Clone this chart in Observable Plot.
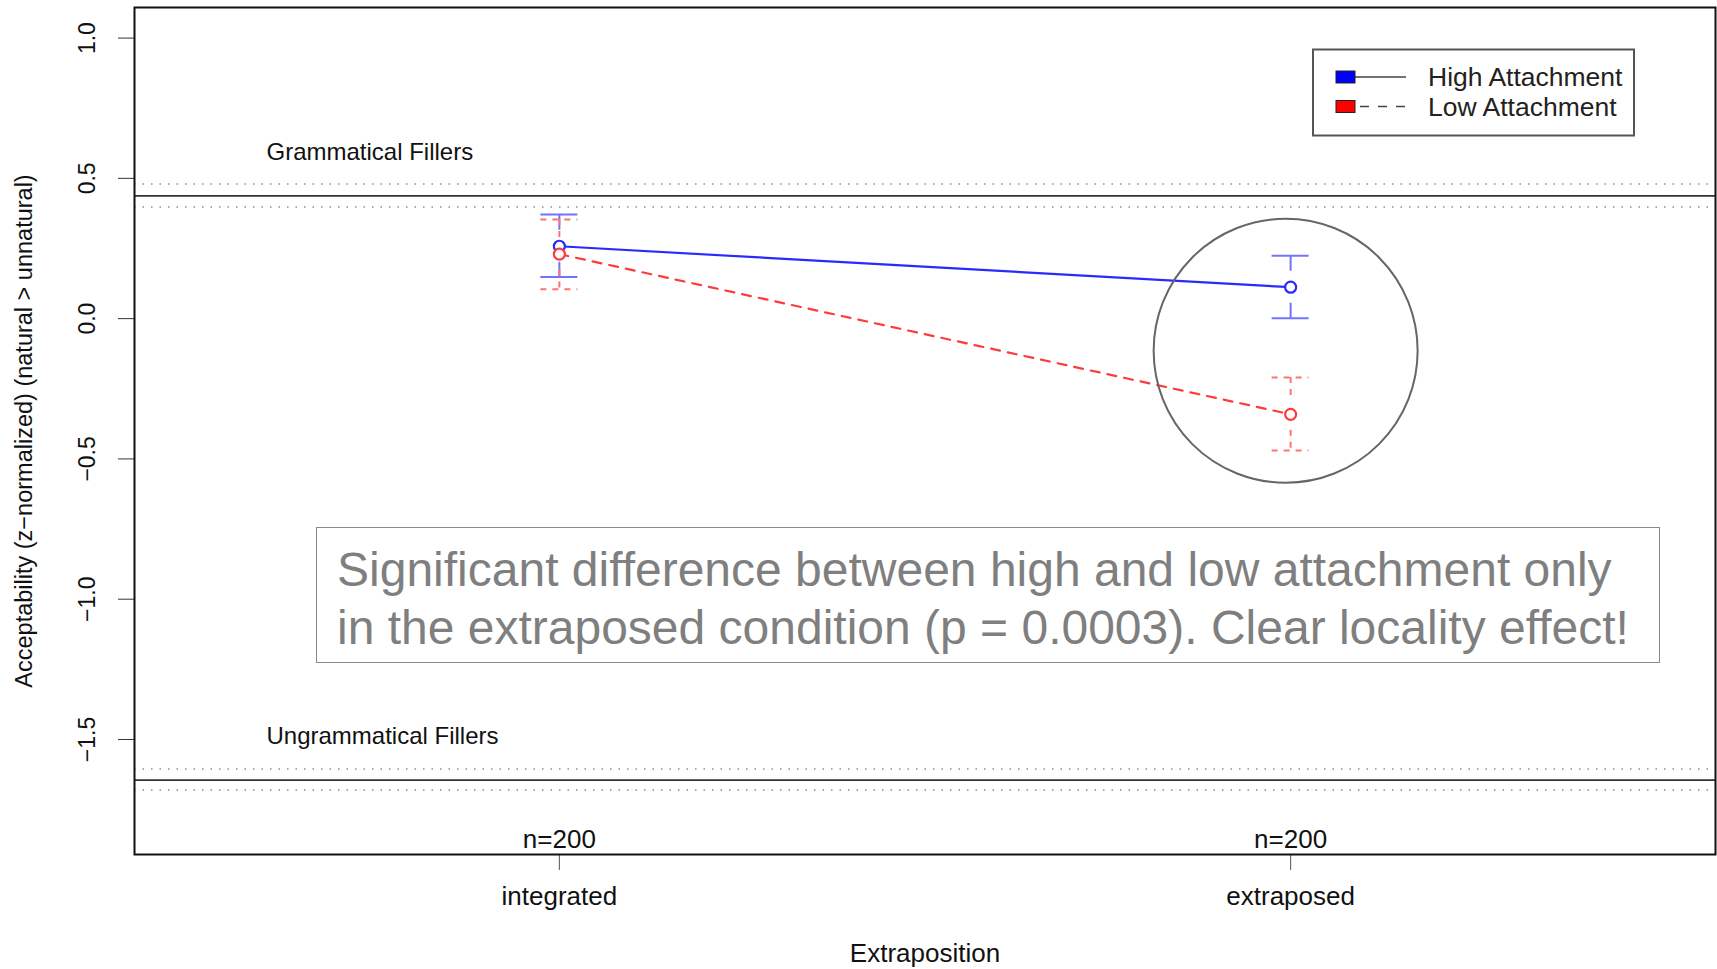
<!DOCTYPE html>
<html>
<head>
<meta charset="utf-8">
<script src="https://cdn.jsdelivr.net/npm/d3@7"></script>
<script src="https://cdn.jsdelivr.net/npm/@observablehq/plot@0.6"></script>
<style>
  html, body { margin: 0; padding: 0; background: #fff; }
  #wrap { position: relative; width: 1717px; height: 969px; overflow: hidden; font-family: "Liberation Sans", Arial, sans-serif; }
  #note {
    position: absolute; left: 316px; top: 527px; width: 1344px; height: 136px;
    box-sizing: border-box; border: 1.5px solid #8a8a8a; background: #fff;
    color: #7f7f7f; font-size: 48px; line-height: 58px; padding: 13px 0 0 20px;
    white-space: nowrap;
  }
  #legend { position: absolute; left: 0; top: 0; }
</style>
</head>
<body>
<div id="wrap"></div>
<script>
// ---- data ----
const categories = ["integrated", "extraposed"];
const nLabels = ["n=200", "n=200"];
const seriesNames = ["High Attachment", "Low Attachment"];
const highMean  = [0.258, 0.112];
const highLower = [0.148, 0.001];
const highUpper = [0.371, 0.224];
const lowMean   = [0.230, -0.341];
const lowLower  = [0.105, -0.470];
const lowUpper  = [0.353, -0.210];
const yTicks = [-1.5, -1.0, -0.5, 0.0, 0.5, 1.0];
const fillerLabels = ["Grammatical Fillers", "Ungrammatical Fillers"];
const fillerMean  = [0.4375, -1.645];
const fillerLower = [0.398, -1.680];
const fillerUpper = [0.480, -1.605];
const noteLines = [
  "Significant difference between high and low attachment only",
  "in the extraposed condition (p = 0.0003). Clear locality effect!"
];

// ---- derived tables ----
const high = categories.map((c, i) => ({x: i + 1, mean: highMean[i], lo: highLower[i], hi: highUpper[i]}));
const low  = categories.map((c, i) => ({x: i + 1, mean: lowMean[i],  lo: lowLower[i],  hi: lowUpper[i]}));
const fillers = fillerLabels.map((l, i) => ({label: l, mean: fillerMean[i], lo: fillerLower[i], hi: fillerUpper[i]}));
const fillerBands = fillers.flatMap(f => [f.lo, f.hi]);
const circleRow = [{x: 2, y: (highMean[1] + lowMean[1]) / 2}];
const fmt = d3.format(".1f");

const blue = "#2a2aff", blueBar = "#7272ff";
const red = "#ff3a3a", redBar = "#ff7272";
const GAP = 16, CAP = 18.5;

function errorMarks(rows, color, dash) {
  const base = {stroke: color, strokeWidth: 2, strokeDasharray: dash};
  return [
    Plot.ruleX(rows, {x: "x", y1: "hi", y2: "mean", insetBottom: GAP, ...base}),
    Plot.ruleX(rows, {x: "x", y1: "mean", y2: "lo", insetTop: GAP, ...base}),
    Plot.ruleY(rows, {y: "hi", x1: "x", x2: "x", insetLeft: -CAP, insetRight: -CAP, ...base}),
    Plot.ruleY(rows, {y: "lo", x1: "x", x2: "x", insetLeft: -CAP, insetRight: -CAP, ...base})
  ];
}

const chart = Plot.plot({
  width: 1717,
  height: 969,
  marginLeft: 134,
  marginRight: 2,
  marginTop: 7,
  marginBottom: 115,
  style: {fontFamily: "'Liberation Sans', Arial, sans-serif", background: "transparent", color: "#111"},
  x: {type: "linear", domain: [0.419, 2.581], axis: null},
  y: {domain: [-1.91, 1.109], axis: null},
  marks: [
    // filler reference lines
    Plot.ruleY(fillerBands, {stroke: "#8c8c8c", strokeWidth: 1.6, strokeDasharray: "1.5,7"}),
    Plot.ruleY(fillers, {y: "mean", stroke: "#333", strokeWidth: 1.6}),
    Plot.text(fillers, {y: "mean", text: "label", frameAnchor: "left", dx: 132, dy: -44, textAnchor: "start", fontSize: 24, fill: "#111"}),
    // error bars
    ...errorMarks(high, blueBar, null),
    ...errorMarks(low, redBar, "6,6"),
    // connecting lines
    Plot.line(high, {x: "x", y: "mean", stroke: blue, strokeWidth: 2.2}),
    Plot.line(low, {x: "x", y: "mean", stroke: red, strokeWidth: 2.2, strokeDasharray: "9,8"}),
    // means
    Plot.dot(high, {x: "x", y: "mean", r: 5.5, stroke: blue, strokeWidth: 2.2, fill: "white"}),
    Plot.dot(low, {x: "x", y: "mean", r: 5.5, stroke: red, strokeWidth: 2.2, fill: "white"}),
    // highlight circle
    Plot.dot(circleRow, {x: "x", y: "y", r: 132, dx: -5, stroke: "#666", strokeWidth: 2, fill: "none"}),
    // n labels
    Plot.text(categories, {x: (d, i) => i + 1, text: (d, i) => nLabels[i], frameAnchor: "bottom", dy: -15, lineAnchor: "middle", fontSize: 26, fill: "#111"}),
    // axes
    Plot.axisX([1, 2], {tickSize: 16, tickPadding: 16, tickFormat: d => categories[d - 1], fontSize: 26, label: null, stroke: "#555"}),
    Plot.axisY(yTicks, {tickSize: 16, tickFormat: () => "", label: null, stroke: "#333"}),
    Plot.text(yTicks, {y: d => d, text: d => fmt(d), frameAnchor: "left", textAnchor: "middle", dx: -47, rotate: -90, fontSize: 23, lineAnchor: "middle", fill: "#111"}),
    Plot.text(["Acceptability (z\u2212normalized) (natural > unnatural)"], {frameAnchor: "left", textAnchor: "middle", dx: -110, rotate: -90, fontSize: 23.5, lineAnchor: "middle", fill: "#111"}),
    Plot.text(["Extraposition"], {frameAnchor: "bottom", dy: 99, lineAnchor: "middle", fontSize: 26, fill: "#111"}),
    Plot.frame({stroke: "#111", strokeWidth: 2})
  ]
});

const wrap = document.getElementById("wrap");
wrap.appendChild(chart);

// annotation box
const note = document.createElement("div");
note.id = "note";
note.innerHTML = noteLines.join("<br>");
wrap.appendChild(note);

// legend
const ns = "http://www.w3.org/2000/svg";
const leg = document.createElementNS(ns, "svg");
leg.setAttribute("id", "legend");
leg.setAttribute("width", 1717);
leg.setAttribute("height", 200);
const swatch = [{fill: "#0000ff", dash: null}, {fill: "#ff0000", dash: "9,9"}];
let html = `<rect x="1313" y="49.5" width="321" height="86" fill="white" stroke="#555" stroke-width="2"/>`;
seriesNames.forEach((name, i) => {
  const cy = 77 + i * 29.5;
  html += `<line x1="1354" x2="1406" y1="${cy}" y2="${cy}" stroke="#444" stroke-width="1.6" ${swatch[i].dash ? `stroke-dasharray="${swatch[i].dash}" stroke-dashoffset="-6"` : ""}/>`;
  html += `<rect x="1336" y="${cy - 6}" width="19" height="12" fill="${swatch[i].fill}" stroke="#222" stroke-width="1"/>`;
  html += `<text x="1428" y="${cy + 9}" font-family="'Liberation Sans', Arial, sans-serif" font-size="26.5" fill="#222">${name}</text>`;
});
leg.innerHTML = html;
wrap.appendChild(leg);
</script>
</body>
</html>
